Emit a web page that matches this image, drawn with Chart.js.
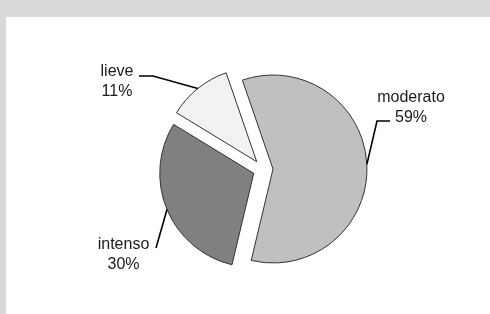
<!DOCTYPE html>
<html>
<head>
<meta charset="utf-8">
<script src="https://cdn.jsdelivr.net/npm/chart.js@4.4.1/dist/chart.umd.min.js"></script>
<style>
  html, body { margin: 0; padding: 0; background: #d9d9d9; }
  #box { position: absolute; left: 6px; top: 17px; width: 484px; height: 297px; background: #fff; }
</style>
</head>
<body>
<div id="box"><canvas id="pie" width="484" height="297"></canvas></div>
<script>
const categories = ['moderato', 'intenso', 'lieve'];
const values = [59, 30, 11];
const sliceColors = ['#c0c0c0', '#808080', '#f2f2f2'];

// where each label sits, relative to the pie centre (text = centre x / first baseline)
const labelSpots = [
    { text: [148, -67.5], path: [[114, -48.5], [127, -48.5]] },
    { text: [-139.5, 79.5], path: [[-107, 78.5]] },
    { text: [-146, -93.5], path: [[-110, -93.5], [-124, -93.5]] }
];

const GAP = 10;

const explode = {
    id: 'explode',
    afterDatasetUpdate(chart, args) {
        args.meta.data.forEach(arc => {
            const mid = (arc.startAngle + arc.endAngle) / 2;
            arc.x += Math.cos(mid) * GAP;
            arc.y += Math.sin(mid) * GAP;
        });
    }
};

const pieLabels = {
    id: 'pieLabels',
    afterDatasetsDraw(chart) {
        const ctx = chart.ctx;
        const area = chart.chartArea;
        const cx = (area.left + area.right) / 2;
        const cy = (area.top + area.bottom) / 2;
        const total = values.reduce((a, b) => a + b, 0);
        const arcs = chart.getDatasetMeta(0).data;

        ctx.save();
        arcs.forEach((arc, i) => {
            const mid = (arc.startAngle + arc.endAngle) / 2;
            const spot = labelSpots[i];

            ctx.beginPath();
            ctx.moveTo(arc.x + Math.cos(mid) * arc.outerRadius, arc.y + Math.sin(mid) * arc.outerRadius);
            spot.path.forEach(p => ctx.lineTo(cx + p[0], cy + p[1]));
            ctx.lineWidth = 1.6;
            ctx.strokeStyle = '#000';
            ctx.stroke();

            ctx.fillStyle = '#1a1a1a';
            ctx.font = '16px "Liberation Sans", Arial, sans-serif';
            ctx.textAlign = 'center';
            ctx.textBaseline = 'alphabetic';
            ctx.fillText(categories[i], cx + spot.text[0], cy + spot.text[1]);
            ctx.fillText(Math.round(values[i] / total * 100) + '%', cx + spot.text[0], cy + spot.text[1] + 20);
        });
        ctx.restore();
    }
};

new Chart(document.getElementById('pie'), {
    type: 'pie',
    data: {
        labels: categories,
        datasets: [{
            data: values,
            backgroundColor: sliceColors,
            borderColor: '#333333',
            borderWidth: 1,
            radius: 94
        }]
    },
    options: {
        responsive: false,
        animation: false,
        events: [],
        rotation: -19,
        layout: {
            padding: { left: 30, right: 0, top: 8, bottom: 0 }
        },
        plugins: {
            legend: { display: false },
            tooltip: { enabled: false }
        }
    },
    plugins: [explode, pieLabels]
});
</script>
</body>
</html>
